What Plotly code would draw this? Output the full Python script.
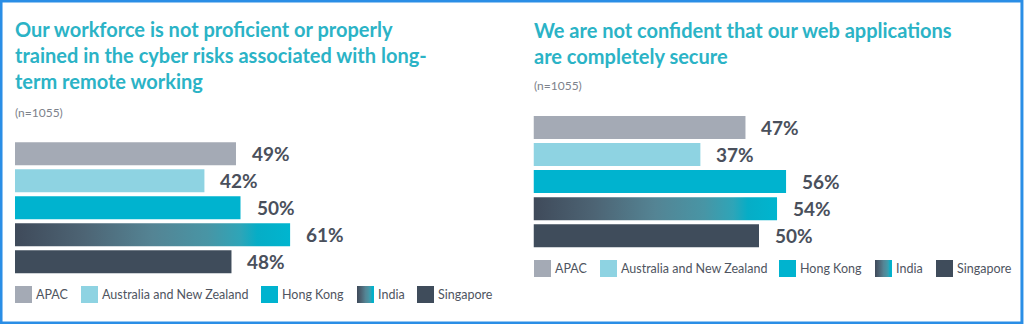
import plotly.graph_objects as go

W, H = 1024, 324

# ---------------- data ----------------
regions = ["APAC", "Australia and New Zealand", "Hong Kong", "India", "Singapore"]
left_values = [49, 42, 50, 61, 48]
right_values = [47, 37, 56, 54, 50]
left_title = "Our workforce is not proficient or properly<br>trained in the cyber risks associated with long-<br>term remote working"
right_title = "We are not confident that our web applications<br>are completely secure"
sample_note = "(n=1055)"

# ---------------- styles ----------------
solid_colors = {"APAC": "#a4aab5", "Australia and New Zealand": "#8ed3e2",
                "Hong Kong": "#00b3cf", "Singapore": "#3f4c5b"}
india_gradient = [[0.0, "#3f4a5a"], [0.25, "#4d6474"], [0.5, "#548494"],
                  [0.7, "#4895a5"], [0.82, "#2ea5b8"], [0.88, "#06adc6"], [1.0, "#00b5cf"]]
TITLE_C = "#2bb3c6"
LABEL_C = "#4a505c"
LEG_C = "#4f5561"
NOTE_C = "#7d828b"
FONT = "Lato"
BAR_W = 0.85

def px_x(p):
    return p / W

def px_y(p):
    return 1 - p / H

fig = go.Figure()

panels = [
    dict(values=left_values, xa="x", ya="y", x0=15, top_c=153.7, pitch=27.0),
    dict(values=right_values, xa="x2", ya="y2", x0=533.5, top_c=127.5, pitch=27.05),
]
PX_PER_PCT = 4.51

for p in panels:
    for i, (reg, v) in enumerate(zip(regions, p["values"])):
        if reg == "India":
            h = BAR_W / 2
            fig.add_trace(go.Scatter(
                x=[0, v, v, 0, 0], y=[i - h, i - h, i + h, i + h, i - h],
                mode="lines", line=dict(width=0), fill="toself",
                fillgradient=dict(type="horizontal", colorscale=india_gradient),
                xaxis=p["xa"], yaxis=p["ya"], showlegend=False, hoverinfo="skip", name=reg))
        else:
            fig.add_trace(go.Bar(
                x=[v], y=[i], orientation="h", width=BAR_W,
                marker=dict(color=solid_colors[reg], line=dict(width=0)),
                xaxis=p["xa"], yaxis=p["ya"], showlegend=False, name=reg))
        fig.add_annotation(x=v, y=i, xref=p["xa"], yref=p["ya"], text=f"{v}%",
                           showarrow=False, xanchor="left", yanchor="middle", xshift=14,
                           font=dict(family=FONT, size=19, color=LABEL_C, weight=700))

layout_axes = {}
for k, p in enumerate(panels):
    suffix = "" if k == 0 else "2"
    x_right = p["x0"] + 100 * PX_PER_PCT
    y_top = p["top_c"] - p["pitch"] / 2
    y_bot = p["top_c"] + 4 * p["pitch"] + p["pitch"] / 2
    layout_axes["xaxis" + suffix] = dict(domain=[px_x(p["x0"]), px_x(x_right)], range=[0, 100],
                                         visible=False, fixedrange=True,
                                         anchor="y" + suffix)
    layout_axes["yaxis" + suffix] = dict(domain=[px_y(y_bot), px_y(y_top)], range=[4.5, -0.5],
                                         visible=False, fixedrange=True,
                                         anchor="x" + suffix)

# overlay pixel axis for legend swatches
layout_axes["xaxis3"] = dict(domain=[0, 1], range=[0, W], visible=False, fixedrange=True, anchor="y3")
layout_axes["yaxis3"] = dict(domain=[0, 1], range=[H, 0], visible=False, fixedrange=True, anchor="x3")

legend_layouts = [
    dict(xs=[15, 81, 261, 357, 417], y0=286),
    dict(xs=[534, 600, 779, 875, 936], y0=260),
]
SW = 17
for lg in legend_layouts:
    y0, y1 = lg["y0"], lg["y0"] + SW
    for reg, sx in zip(regions, lg["xs"]):
        kw = dict(x=[sx, sx + SW, sx + SW, sx, sx], y=[y0, y0, y1, y1, y0],
                  mode="lines", line=dict(width=0), fill="toself",
                  xaxis="x3", yaxis="y3", showlegend=False, hoverinfo="skip", name=reg)
        if reg == "India":
            kw["fillgradient"] = dict(type="horizontal", colorscale=india_gradient)
        else:
            kw["fillcolor"] = solid_colors[reg]
        fig.add_trace(go.Scatter(**kw))
        fig.add_annotation(x=sx + SW + 2, y=(y0 + y1) / 2, xref="x3", yref="y3", text=reg,
                           showarrow=False, xanchor="left", yanchor="middle",
                           font=dict(family=FONT, size=12.5, color=LEG_C))

# titles
fig.add_annotation(x=px_x(13), y=px_y(15), xref="paper", yref="paper", text=left_title,
                   showarrow=False, xanchor="left", yanchor="top", align="left",
                   font=dict(family=FONT, size=20, color=TITLE_C, weight=700))
fig.add_annotation(x=px_x(532), y=px_y(16), xref="paper", yref="paper", text=right_title,
                   showarrow=False, xanchor="left", yanchor="top", align="left",
                   font=dict(family=FONT, size=20, color=TITLE_C, weight=700))
fig.add_annotation(x=px_x(13), y=px_y(112), xref="paper", yref="paper", text=sample_note,
                   showarrow=False, xanchor="left", yanchor="middle",
                   font=dict(family=FONT, size=12, color=NOTE_C))
fig.add_annotation(x=px_x(532), y=px_y(85), xref="paper", yref="paper", text=sample_note,
                   showarrow=False, xanchor="left", yanchor="middle",
                   font=dict(family=FONT, size=12, color=NOTE_C))

# outer blue frame
fig.add_shape(type="rect", xref="paper", yref="paper", x0=0.001, y0=0.003, x1=0.998, y1=0.997,
              line=dict(color="#2a8ee6", width=3), fillcolor="rgba(0,0,0,0)")

fig.update_layout(width=W, height=H, margin=dict(l=0, r=0, t=0, b=0),
                  paper_bgcolor="white", plot_bgcolor="rgba(0,0,0,0)",
                  barmode="overlay", showlegend=False, **layout_axes)

fig.write_html("out.html", config={"displayModeBar": False})
